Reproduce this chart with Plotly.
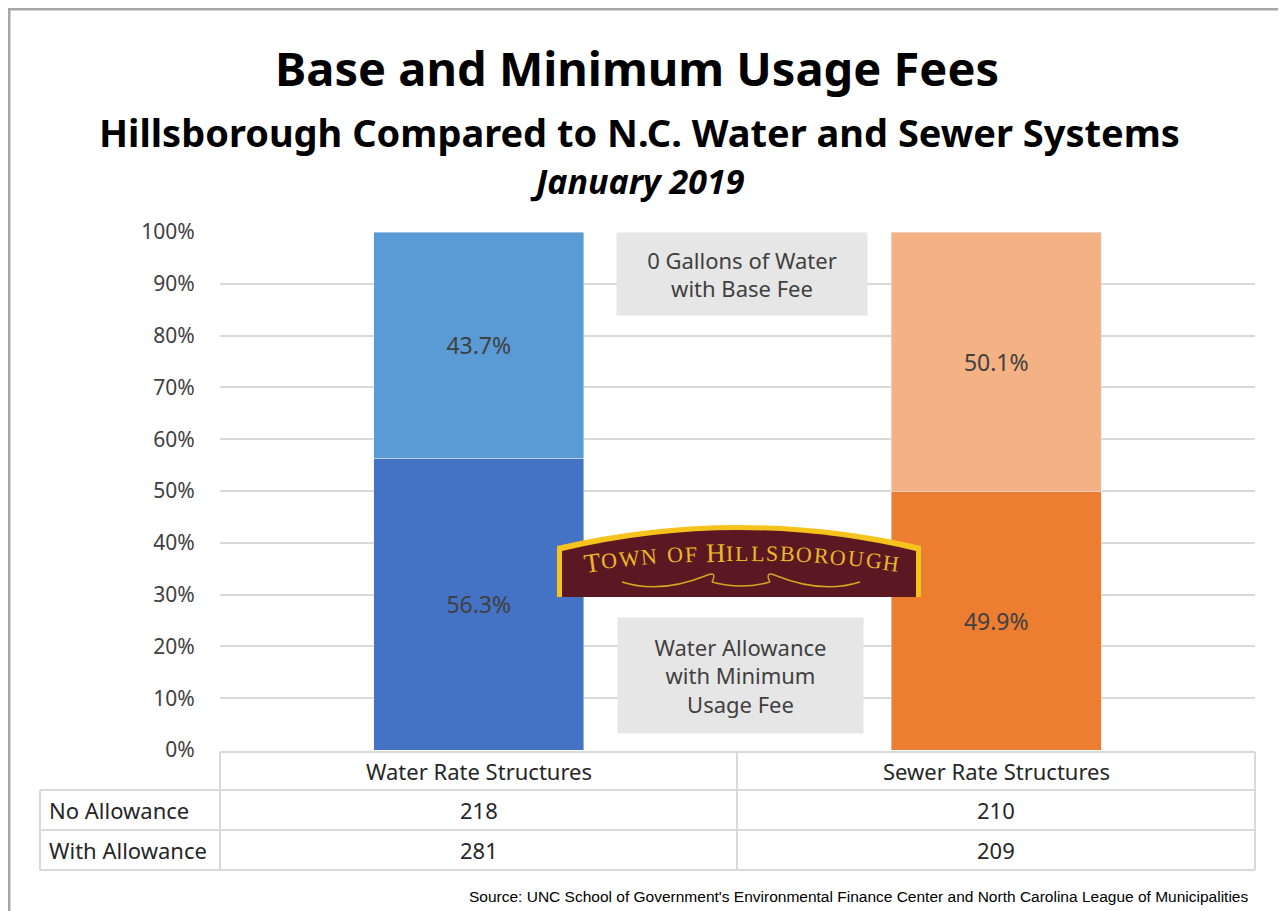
import math
import plotly.graph_objects as go

# ---------------- data ----------------
categories = ["Water Rate Structures", "Sewer Rate Structures"]
pct_with_allowance = [56.3, 49.9]      # bottom segment: Water Allowance with Minimum Usage Fee
pct_no_allowance = [43.7, 50.1]        # top segment: 0 Gallons of Water with Base Fee
count_no_allowance = [218, 210]
count_with_allowance = [281, 209]
row_labels = ["No Allowance", "With Allowance"]
y_ticks = [0, 10, 20, 30, 40, 50, 60, 70, 80, 90, 100]
y_tick_labels = [f"{v}%" for v in y_ticks]

# ---------------- layout geometry (pixels, reference coordinates) ----------------
OFF = 8  # page body margin
W, H = 1286, 911
FW, FH = W - OFF, H - OFF
L, R, T, B = 220, 1255, 232, 750  # plot area
PW, PH = R - L, B - T


def px(x):
    return (x - L) / PW


def py(y):
    return (B - y) / PH


bottom_colors = ["#4472C4", "#ED7D31"]
top_colors = ["#5B9BD5", "#F4B183"]
label_font = dict(size=23, color="#404040", family="Noto Sans")

fig = go.Figure()
fig.add_trace(go.Bar(
    x=categories, y=pct_with_allowance, marker_color=bottom_colors,
    text=[f"{v:.1f}%" for v in pct_with_allowance], textposition="inside",
    insidetextanchor="middle", textfont=label_font,
    width=0.405, hoverinfo="skip", showlegend=False))
fig.add_trace(go.Bar(
    x=categories, y=pct_no_allowance, marker_color=top_colors,
    text=[f"{v:.1f}%" for v in pct_no_allowance], textposition="inside",
    insidetextanchor="middle", textfont=label_font,
    width=0.405, hoverinfo="skip", showlegend=False))

shapes = []
annotations = []


def ann(x, y, text, font, xanchor="center", yanchor="middle", xref="paper", **kw):
    d = dict(xref=xref, yref="paper", x=x, y=y, text=text, showarrow=False,
             xanchor=xanchor, yanchor=yanchor, font=font)
    d.update(kw)
    annotations.append(d)


# outer frame
shapes.append(dict(type="rect", xref="paper", yref="paper",
                   x0=px(9), x1=px(1300), y0=py(1000), y1=py(9),
                   line=dict(color="#A6A6A6", width=3), layer="below"))

# ---------------- data table ----------------
grid = "#D9D9D9"
hlines = [(752, L, R), (790, 40, R), (830, 40, R), (870, 40, R)]
for yy, xa, xb in hlines:
    shapes.append(dict(type="line", xref="paper", yref="paper",
                       x0=px(xa), x1=px(xb), y0=py(yy), y1=py(yy),
                       line=dict(color=grid, width=2)))
vlines = [(40, 790, 870), (L, 752, 870), (737, 752, 870), (R, 752, 870)]
for xx, ya, yb in vlines:
    shapes.append(dict(type="line", xref="paper", yref="paper",
                       x0=px(xx), x1=px(xx), y0=py(ya), y1=py(yb),
                       line=dict(color=grid, width=2)))

table_font = dict(family="Noto Sans", size=22, color="#262626")
row_centers = [810, 850]
for cat in categories:
    ann(cat, py(771), cat, table_font, xref="x")
for r, (lab, vals) in enumerate(zip(row_labels, [count_no_allowance, count_with_allowance])):
    ann(px(47), py(row_centers[r]), lab, table_font, xanchor="left")
    for i, cat in enumerate(categories):
        ann(cat, py(row_centers[r]), str(vals[i]), table_font, xref="x")

# ---------------- gray labels ----------------
box_font = dict(family="Noto Sans", size=22, color="#404040")
ann(px(742), py(274), "0 Gallons of Water<br>with Base Fee", box_font,
    bgcolor="#E7E6E6", width=250, height=82, align="center", borderpad=0)
ann(px(740), py(675.5), "Water Allowance<br>with Minimum<br>Usage Fee", box_font,
    bgcolor="#E7E6E6", width=245, height=115, align="center", borderpad=0)

# ---------------- logo ----------------
def arch_path(x0, x1, ytop, ypeak, ybot):
    ctrl = 2 * ypeak - ytop
    xm = (x0 + x1) / 2
    return (f"M {px(x0)},{py(ybot)} L {px(x0)},{py(ytop)} "
            f"Q {px(xm)},{py(ctrl)} {px(x1)},{py(ytop)} "
            f"L {px(x1)},{py(ybot)} Z")

shapes.append(dict(type="path", xref="paper", yref="paper",
                   path=arch_path(557, 921, 546, 525, 597),
                   fillcolor="#F6C21C", line=dict(width=0)))
shapes.append(dict(type="path", xref="paper", yref="paper",
                   path=arch_path(562, 916, 551, 530, 597),
                   fillcolor="#5B1823", line=dict(width=0)))

# swirls
gold = "#D9A520"
swirls = [
    f"M {px(622)},{py(582)} Q {px(660)},{py(594)} {px(705)},{py(576)}",
    f"M {px(705)},{py(576)} Q {px(718)},{py(570)} {px(712)},{py(582)}",
    f"M {px(860)},{py(582)} Q {px(822)},{py(594)} {px(777)},{py(576)}",
    f"M {px(777)},{py(576)} Q {px(764)},{py(570)} {px(770)},{py(582)}",
    f"M {px(712)},{py(582)} Q {px(741)},{py(590)} {px(770)},{py(582)}",
]
for p in swirls:
    shapes.append(dict(type="path", xref="paper", yref="paper", path=p,
                       line=dict(color=gold, width=1.5)))

logo_text = "TOWN OF HILLSBOROUGH"
cw = {"T": .611, "O": .722, "W": .944, "N": .722, " ": .30, "F": .556, "H": .722,
      "I": .333, "L": .611, "S": .556, "B": .667, "R": .667, "U": .722, "G": .722}
track = 0.12
widths = [cw[c] + track for c in logo_text]
total = sum(widths)
x_start, x_end = 585, 900
scale = (x_end - x_start) / total
xc_text = 742
k = 0.00045
cum = x_start
for idx, (c, w) in enumerate(zip(logo_text, widths)):
    cx = cum + w * scale / 2
    cum += w * scale
    if c == " ":
        continue
    cy = 553 + k * (cx - xc_text) ** 2
    ang = math.degrees(math.atan(2 * k * (cx - xc_text)))
    size = 27 if idx in (0, 8) else 22
    ann(px(cx), py(cy), c, dict(family="Liberation Serif", size=size, color="#E9B825"),
        textangle=ang)

# ---------------- titles ----------------
ann(px(637), py(68), "<b>Base and Minimum Usage Fees</b>",
    dict(family="Noto Sans", size=47, color="#000000"))
ann(px(639), py(132), "<b>Hillsborough Compared to N.C. Water and Sewer Systems</b>",
    dict(family="Noto Sans", size=38, color="#000000"))
ann(px(637), py(181), "<b><i>January 2019</i></b>",
    dict(family="Noto Sans", size=34, color="#000000"))

# source
ann(px(1250), py(896),
    "Source: UNC School of Government's Environmental Finance Center and North Carolina League of Municipalities",
    dict(family="Liberation Sans Narrow, Liberation Sans", size=15.5, color="#000000"),
    xanchor="right")

fig.update_layout(
    width=FW, height=FH,
    margin=dict(l=L - OFF, r=W - R, t=T - OFF, b=H - B, pad=0),
    barmode="stack",
    plot_bgcolor="white", paper_bgcolor="white",
    shapes=shapes, annotations=annotations,
    xaxis=dict(showticklabels=False, showgrid=False, zeroline=False, range=[-0.5, 1.5],
               showline=False, ticks=""),
    yaxis=dict(range=[0, 100], tickmode="array", tickvals=y_ticks, ticktext=y_tick_labels,
               showgrid=True, gridcolor="#D9D9D9", gridwidth=2, zeroline=False, showline=False,
               ticks="outside", ticklen=20, tickcolor="rgba(0,0,0,0)",
               tickfont=dict(family="Noto Sans", size=21, color="#404040")),
)

fig.write_html("out.html")
